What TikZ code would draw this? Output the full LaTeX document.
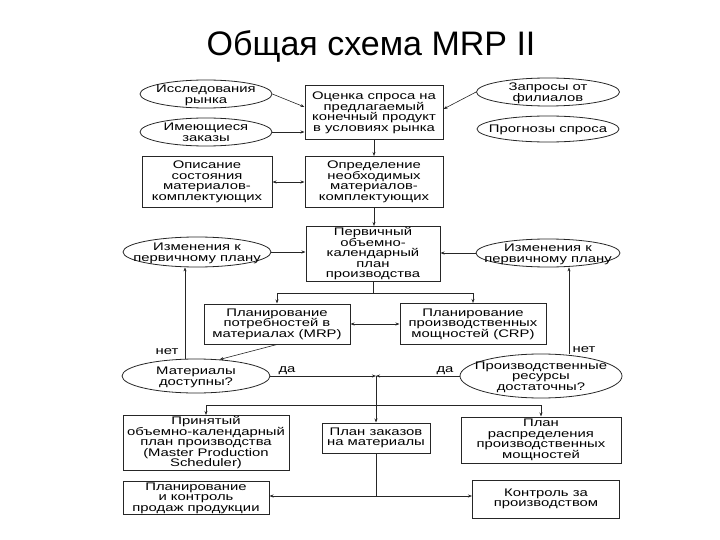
\documentclass[tikz,border=0pt]{standalone}
\usepackage{fontspec}
\setmainfont{Liberation Sans}
\newfontfamily\schemefont[FakeStretch=1.35]{Liberation Sans}
\usepackage{tikz}
\usetikzlibrary{shapes.geometric,arrows.meta,positioning}
\newcommand{\elltext}[1]{\makebox[0pt]{\smash{\raisebox{-0.4em}{\begin{tabular}[c]{@{}c@{}}#1\end{tabular}}}}}

\begin{document}
\begin{tikzpicture}[x=1pt, y=-1pt, >={Stealth[length=4pt,width=3pt]},
  box/.style={draw=black!85, line width=1pt, inner sep=1pt, align=center, font=\schemefont\fontsize{11}{10.5}\selectfont},
  oval/.style={ellipse, draw=black!85, line width=0.8pt, inner sep=0pt, font=\schemefont\fontsize{11}{10.5}\selectfont},
  lbl/.style={inner sep=0pt, font=\schemefont\fontsize{11}{10.5}\selectfont},
  conn/.style={line width=0.6pt, draw=black!85}]

\useasboundingbox (0,0) rectangle (720,540);

\node (title) at (371,46) {\fontsize{34}{40}\selectfont Общая схема MRP II};

% top row
\node (issl) [oval, minimum width=132pt, minimum height=28pt] at (206,94) {\elltext{Исследования\\рынка}};
\node (zak) [oval, minimum width=132pt, minimum height=28pt] at (206,132) {\elltext{Имеющиеся\\заказы}};
\node (ocen) [box, minimum width=138pt, minimum height=54pt] at (374,113) {Оценка спроса на\\предлагаемый\\конечный продукт\\в условиях рынка};
\node (zapr) [oval, minimum width=143pt, minimum height=28pt] at (548,92) {\elltext{Запросы от\\филиалов}};
\node (progn) [oval, minimum width=142pt, minimum height=26pt] at (548,129) {\elltext{Прогнозы спроса}};

\node (opis) [box, minimum width=130pt, minimum height=51pt] at (207,182) {Описание\\состояния\\материалов-\\комплектующих};
\node (opred) [box, minimum width=138pt, minimum height=51pt] at (374,182) {Определение\\необходимых\\материалов-\\комплектующих};

% primary plan
\node (perv) [box, minimum width=134pt, minimum height=55pt] at (373,254) {Первичный\\объемно-\\календарный\\план\\производства};
\node (izmL) [oval, minimum width=148pt, minimum height=30pt] at (197,252) {\elltext{Изменения к\\первичному плану}};
\node (izmR) [oval, minimum width=144pt, minimum height=28pt] at (548,253) {\elltext{Изменения к\\первичному плану}};

\node (mrp) [box, minimum width=146pt, minimum height=40pt] at (277,324) {Планирование\\потребностей в\\материалах (MRP)};
\node (crp) [box, minimum width=146pt, minimum height=41pt] at (473,324) {Планирование\\производственных\\мощностей (CRP)};

% checks
\node (mat) [oval, minimum width=148pt, minimum height=34pt] at (196,376) {\elltext{Материалы\\доступны?}};
\node (proizv) [oval, minimum width=162pt, minimum height=44pt] at (541,376) {\elltext{Производственные\\ресурсы\\достаточны?}};
\node (net1) [lbl] at (167,352) {нет};
\node (da1) [lbl] at (287,371) {да};
\node (da2) [lbl] at (445,371) {да};
\node (net2) [lbl] at (584,350) {нет};

% results
\node (prin) [box, minimum width=166pt, minimum height=55pt] at (206,443) {Принятый\\объемно-календарный\\план производства\\(Master Production\\Scheduler)};
\node (plzak) [box, minimum width=108pt, minimum height=30pt] at (376,438) {План заказов\\на материалы};
\node (plrasp) [box, minimum width=160pt, minimum height=46pt] at (541,440) {План\\распределения\\производственных\\мощностей};
\node (plan) [box, minimum width=146pt, minimum height=32pt] at (196,498) {Планирование\\и контроль\\продаж продукции};
\node (kontr) [box, minimum width=147pt, minimum height=38pt] at (546,499) {Контроль за\\производством};

\coordinate (j1) at (373,293);
\coordinate (j2) at (376,376);
\coordinate (j3) at (376,405);
\coordinate (j4) at (376,496);

\draw [conn, ->] (issl.east) -- ([yshift=6pt]ocen.west);
\draw [conn, ->] (zak.east) -- (zak.east -| ocen.west);
\draw [conn, ->] (zapr.west) -- ([yshift=4pt]ocen.east);
\draw [conn, ->] (ocen) -- (opred);
\draw [conn, <->] (opis) -- (opred);
\draw [conn, ->] (opred.south) -- (opred.south |- perv.north);
\draw [conn, ->] (izmL.east) -- (izmL.east -| perv.west);
\draw [conn, ->] (izmR.west) -- (izmR.west -| perv.east);

\draw [conn] (perv.south) -- (j1);
\draw [conn, ->] (j1) -| (mrp);
\draw [conn, ->] (j1) -| (crp);
\draw [conn, <->] (mrp) -- (crp);
\draw [conn, ->] (mrp.south) -- (mat.35);

% "net" loops
\draw [conn, ->] ([xshift=-11pt]mat.north) -- ([xshift=-11pt]mat.north |- izmL.south);
\draw [conn, ->] ([xshift=28pt]proizv.north) -- ([xshift=28pt]proizv.north |- izmR.south);

% "da" branch
\draw [conn, ->] (mat.east) -- (j2);
\draw [conn, ->] (proizv.west) -- (j2);
\draw [conn] (j2) -- (j3);
\draw [conn, ->] (j3) -| (prin);
\draw [conn, ->] (j3) -- (plzak);
\draw [conn, ->] (j3) -| (plrasp);

\draw [conn] (plzak) -- (j4);
\draw [conn, ->] (j4) -- (j4 -| plan.east);
\draw [conn, ->] (j4) -- (j4 -| kontr.west);

\end{tikzpicture}
\end{document}
